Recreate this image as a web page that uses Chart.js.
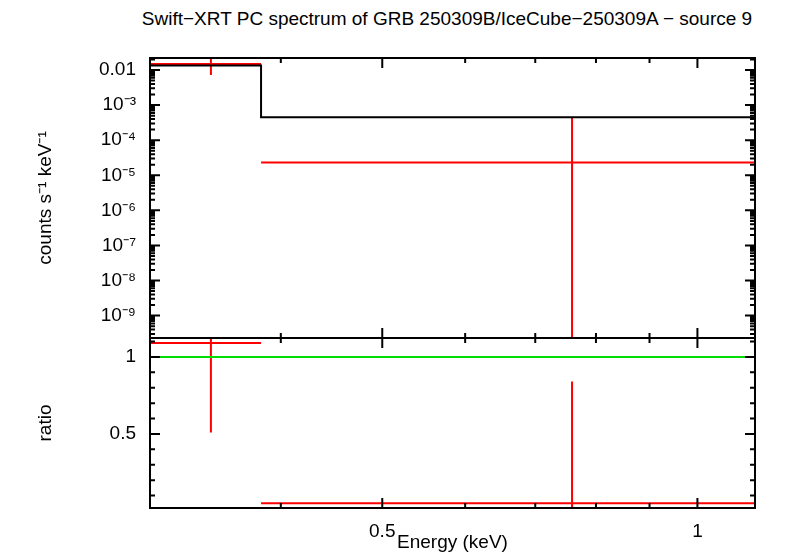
<!DOCTYPE html><html><head><meta charset="utf-8">
<script src="https://cdn.jsdelivr.net/npm/chart.js@4"></script>
<style>body{margin:0;background:#fff;font-family:"Liberation Sans",Arial,sans-serif}
canvas{position:absolute;left:0;top:0}
#t{position:absolute;top:8px;left:0;width:788px;text-align:center;padding-left:106px;box-sizing:border-box;font-size:19px}</style>
</head><body>
<div id="t">Swift−XRT PC spectrum of GRB 250309B/IceCube−250309A − source 9</div>
<div style="position:absolute;left:0;top:0;width:788px;height:558px"><canvas id="c1" width="788" height="558"></canvas></div>
<div style="position:absolute;left:0;top:0;width:788px;height:558px"><canvas id="c2" width="788" height="558"></canvas></div>
<script>
const binLo=[0.3,0.383];
const binHi=[0.383,1.5];
const binE=[0.343,0.759];
const rate=[0.0148,2.3e-5];
const rateLo=[0.0072,1e-12];
const rateHi=[0.022,4.4e-4];
const model=[0.0135,4.5e-4];
const ratio=[1.09,0.05];
const ratioLo=[0.51,-0.1];
const ratioHi=[1.3,0.84];
const xTicks=[0.5,1];
const xMinor=[0.3,0.4,0.6,0.7,0.8,0.9];
const yTicks=[1e-9,1e-8,1e-7,1e-6,1e-5,1e-4,1e-3,0.01];
const rTicks=[0.5,1];
const rMinor=[0.1,0.2,0.3,0.4,0.6,0.7,0.8,0.9,1.1];
const sup={'-':'⁻','0':'⁰','1':'¹','2':'²','3':'³','4':'⁴','5':'⁵','6':'⁶','7':'⁷','8':'⁸','9':'⁹'};
const F={family:'"Liberation Sans",Arial,sans-serif',size:19};
Chart.defaults.font=F;Chart.defaults.color='#000';
function segs(lo,hi,v,col,w){const d=[];lo.forEach((l,i)=>{d.push({x:l,y:v[i]},{x:hi[i],y:v[i]},{x:NaN,y:NaN});});return{data:d,borderColor:col,borderWidth:w,pointRadius:0,showLine:true,spanGaps:false};}
function vsegs(e,lo,hi,col){const d=[];e.forEach((x,i)=>{d.push({x:x,y:lo[i]},{x:x,y:hi[i]},{x:NaN,y:NaN});});return{data:d,borderColor:col,borderWidth:2,pointRadius:0,showLine:true,spanGaps:false};}
function step(){const d=[];binLo.forEach((l,i)=>{d.push({x:l,y:model[i]},{x:binHi[i],y:model[i]});});return{data:d,borderColor:'#000',borderWidth:2,pointRadius:0,showLine:true};}
const minorsLog=[];for(let e=-10;e<=-2;e++)for(let k=2;k<=9;k++)minorsLog.push(k*Math.pow(10,e));
function tickPlugin(yMaj,yMin){return{id:'tk',afterDatasetsDraw(c){const a=c.chartArea,ctx=c.ctx,x=c.scales.x,y=c.scales.y;ctx.save();ctx.strokeStyle='#000';ctx.lineWidth=2;ctx.beginPath();
const dx=(v,L)=>{const p=x.getPixelForValue(v);if(p<a.left||p>a.right)return;ctx.moveTo(p,a.bottom);ctx.lineTo(p,a.bottom-L);ctx.moveTo(p,a.top);ctx.lineTo(p,a.top+L);};
const dy=(v,L)=>{const p=y.getPixelForValue(v);if(p<a.top||p>a.bottom)return;ctx.moveTo(a.left,p);ctx.lineTo(a.left+L,p);ctx.moveTo(a.right,p);ctx.lineTo(a.right-L,p);};
xTicks.forEach(v=>dx(v,10));xMinor.forEach(v=>dx(v,5));yMaj.forEach(v=>dy(v,10));yMin.forEach(v=>dy(v,5));ctx.stroke();
ctx.lineWidth=2;ctx.strokeRect(a.left,a.top,a.right-a.left,a.bottom-a.top);ctx.restore();}};}
const noPadX=s=>{s.paddingLeft=0;s.paddingRight=0;};
const noPadY=s=>{s.paddingTop=0;s.paddingBottom=0;};
const xBase={type:'logarithmic',min:0.3,max:1.135,grid:{display:false},border:{display:false}};
new Chart(document.getElementById('c1'),{type:'scatter',
data:{datasets:[step(),segs(binLo,binHi,rate,'#f00',2),vsegs(binE,rateLo,rateHi,'#f00')]},
options:{responsive:false,animation:false,plugins:{legend:{display:false},tooltip:{enabled:false}},
layout:{padding:{top:58,right:33,bottom:0,left:34}},
scales:{x:{...xBase,display:true,ticks:{display:false},afterFit(s){s.height=220;noPadX(s);}},
y:{type:'logarithmic',min:2.3e-10,max:0.022,grid:{display:false},border:{display:false},
afterBuildTicks(s){s.ticks=yTicks.map(v=>({value:v}));},
ticks:{padding:6,callback(v){if(v===0.01)return'0.01';const e=Math.round(Math.log10(v));return'10'+String(e).split('').map(c=>sup[c]).join('');}},
title:{display:true,text:'counts s⁻¹ keV⁻¹',font:F,padding:{top:0,bottom:0}},afterFit(s){s.width=116;noPadY(s);}}}},
plugins:[tickPlugin(yTicks,minorsLog)]});
new Chart(document.getElementById('c2'),{type:'scatter',
data:{datasets:[{data:[{x:0.3,y:1},{x:1.135,y:1}],borderColor:'#0d0',borderWidth:2,pointRadius:0,showLine:true},segs(binLo,binHi,ratio,'#f00',2),vsegs(binE,ratioLo,ratioHi,'#f00')]},
options:{responsive:false,animation:false,plugins:{legend:{display:false},tooltip:{enabled:false}},
layout:{padding:{top:338,right:33,bottom:0,left:34}},
scales:{x:{...xBase,afterBuildTicks(s){s.ticks=xTicks.map(v=>({value:v}));},ticks:{padding:4,maxRotation:0,callback:v=>String(v)},
title:{display:true,text:'Energy (keV)',font:F,padding:{top:0}},afterFit(s){s.height=50;noPadX(s);}},
y:{min:0.019,max:1.123,grid:{display:false},border:{display:false},afterBuildTicks(s){s.ticks=rTicks.map(v=>({value:v}));},
ticks:{padding:6,callback:v=>String(v)},title:{display:true,text:'ratio',font:F,padding:{top:0,bottom:0}},afterFit(s){s.width=116;noPadY(s);}}}},
plugins:[tickPlugin(rTicks,rMinor)]});
</script></body></html>
